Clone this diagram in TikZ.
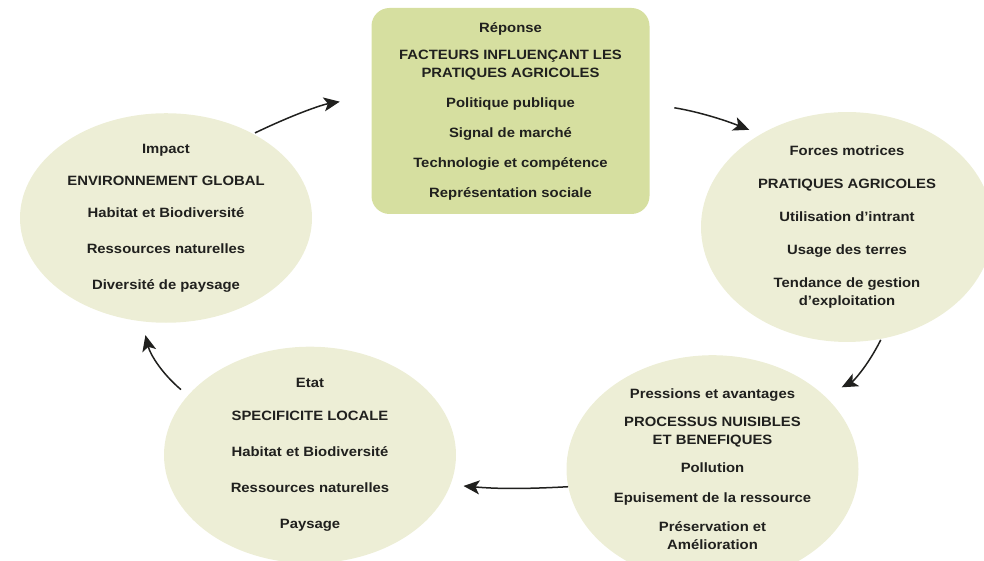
\documentclass[tikz,border=0pt]{standalone}
\usepackage{fontspec}
\setmainfont[FakeStretch=1.1]{Liberation Sans}
\usetikzlibrary{shapes.geometric}
\usetikzlibrary{arrows.meta}
\definecolor{boxgreen}{RGB}{214,223,160}
\definecolor{cream}{RGB}{237,238,214}
\definecolor{ink}{RGB}{32,32,30}
\tikzstyle{entry}=[align=center, text=ink, font=\fontsize{13.5}{18}\selectfont\bfseries, inner sep=0pt]
\tikzstyle{phase}=[entry, ellipse, fill=cream, minimum width=292pt, minimum height=200pt]
\tikzstyle{answer}=[entry, rectangle, fill=boxgreen, rounded corners=18pt, minimum width=278pt, minimum height=206pt]
\tikzstyle{link}=[-{Stealth[length=16pt,width=14pt,inset=4pt]}, line width=1.5pt, draw=ink]

\begin{document}
\begin{tikzpicture}[x=1pt,y=1pt]
\useasboundingbox (0,0) rectangle (984,561);

\node (reponse) at (510.5,450) [answer] {Réponse\\[9pt] FACTEURS INFLUENÇANT LES\\PRATIQUES AGRICOLES\\[12pt] Politique publique\\[12pt] Signal de marché\\[12pt] Technologie et compétence\\[12pt] Représentation sociale};

\node (forces) at (847,334) [phase] {Forces motrices\\[15pt] PRATIQUES AGRICOLES\\[15pt] Utilisation d’intrant\\[15pt] Usage des terres\\[15pt] Tendance de gestion\\d’exploitation};
\node (pressions) at (712.5,92) [phase] {Pressions et avantages\\[10pt] PROCESSUS NUISIBLES\\ET BENEFIQUES\\[10pt] Pollution\\[12pt] Epuisement de la ressource\\[11pt] Préservation et\\Amélioration};
\node (etat) at (310,106) [phase] {Etat\\[15pt] SPECIFICITE LOCALE\\[18pt] Habitat et Biodiversité\\[18pt] Ressources naturelles\\[18pt] Paysage};
\node (impact) at (166,343) [phase] {Impact\\[14pt] ENVIRONNEMENT GLOBAL\\[14pt] Habitat et Biodiversité\\[18pt] Ressources naturelles\\[18pt] Diversité de paysage};

\draw [link, shorten <=2pt, shorten >=32pt] (impact.44) to [bend left=8] (reponse.174);
\draw [link, shorten <=25pt, shorten >=12pt] (reponse.3) to [bend left=6] (forces.133);
\draw [link, shorten <=1pt, shorten >=19pt] (forces.-73) to [bend left=18] (pressions.33);
\draw [link, shorten >=13pt] (pressions.187) to [bend left=4] (etat.-12);
\draw [link, shorten <=9pt, shorten >=14pt] (etat.154) to [bend left=18] (impact.257);

\end{tikzpicture}
\end{document}
